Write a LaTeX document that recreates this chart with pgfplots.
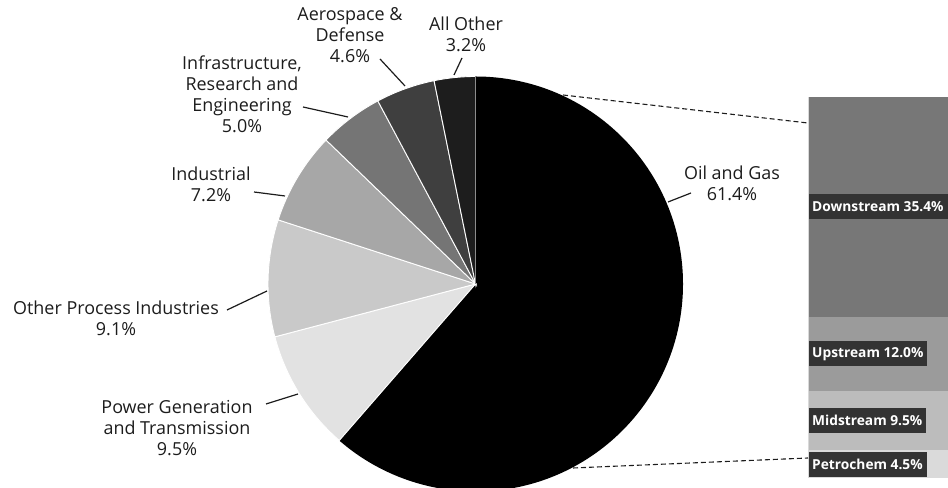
\documentclass[border=0pt]{standalone}
\usepackage{pgfplots}
\pgfplotsset{compat=1.18}
\usepackage{fontspec}
\setmainfont{Open Sans}
\definecolor{cOil}{HTML}{000000}
\definecolor{cPow}{HTML}{E2E2E2}
\definecolor{cOPI}{HTML}{C9C9C9}
\definecolor{cInd}{HTML}{A7A7A7}
\definecolor{cInf}{HTML}{757575}
\definecolor{cAer}{HTML}{3F3F3F}
\definecolor{cAll}{HTML}{1D1D1D}
\definecolor{cDown}{HTML}{777777}
\definecolor{cUp}{HTML}{9B9B9B}
\definecolor{cMid}{HTML}{BCBCBC}
\definecolor{cPet}{HTML}{DADADA}
\definecolor{labfill}{HTML}{333333}
\definecolor{txt}{HTML}{1C1C1C}
% pie values (percent)
\def\vOil{61.4}
\def\vPow{9.5}
\def\vOPI{9.1}
\def\vInd{7.2}
\def\vInf{5.0}
\def\vAer{4.6}
\def\vAll{3.2}
\pgfmathsetmacro\aA{90}
\pgfmathsetmacro\aB{\aA-3.6*\vOil}
\pgfmathsetmacro\aC{\aB-3.6*\vPow}
\pgfmathsetmacro\aD{\aC-3.6*\vOPI}
\pgfmathsetmacro\aE{\aD-3.6*\vInd}
\pgfmathsetmacro\aF{\aE-3.6*\vInf}
\pgfmathsetmacro\aG{\aF-3.6*\vAer}
\pgfmathsetmacro\aH{\aG-3.6*\vAll}
\def\R{207.5bp}
\newcommand{\slice}[3]{\fill[#1,draw=white,line width=0.9bp] (axis cs:0,0) -- (axis cs:{cos(#2)},{sin(#2)}) arc[start angle=#2,end angle=#3,radius=\R] -- cycle;}
\tikzset{lab/.style={anchor=west, fill=labfill, text=white, inner xsep=4bp, inner ysep=0pt,
  minimum height=25bp, font=\bfseries\fontsize{13.8}{15}\selectfont}}
\begin{document}
\begin{tikzpicture}[x=1bp,y=1bp]
\useasboundingbox (0,0) rectangle (948,488);
\clip (0,0) rectangle (948,488);
% pie
\begin{axis}[at={(475.5bp,204bp)}, anchor=center, scale only axis,
  width=415bp, height=415bp, xmin=-1, xmax=1, ymin=-1, ymax=1,
  enlargelimits=false, hide axis, clip=false]
\fill[cOil] (axis cs:0,0) -- (axis cs:{cos(\aA)},{sin(\aA)}) arc[start angle=\aA,end angle=\aB,radius=\R] -- cycle;
\slice{cPow}{\aB}{\aC}
\slice{cOPI}{\aC}{\aD}
\slice{cInd}{\aD}{\aE}
\slice{cInf}{\aE}{\aF}
\slice{cAer}{\aF}{\aG}
\slice{cAll}{\aG}{\aH}
\draw[color=black!45,line width=1.2bp] (axis cs:0,0) -- (axis cs:0,1);
\end{axis}
% bar of Oil and Gas breakdown
\begin{axis}[at={(808bp,10bp)}, anchor=south west, scale only axis,
  width=160bp, height=381bp, xmin=0, xmax=1, ymin=0, ymax=61.4,
  enlargelimits=false, hide axis, clip=false, ybar stacked, bar width=160bp]
\addplot[fill=cPet, draw=none] coordinates {(0.5,4.5)};
\addplot[fill=cMid, draw=none] coordinates {(0.5,9.5)};
\addplot[fill=cUp, draw=none] coordinates {(0.5,12.0)};
\addplot[fill=cDown, draw=none] coordinates {(0.5,35.4)};
\coordinate (lPet) at (axis cs:0,2.25);
\coordinate (lMid) at (axis cs:0,9.25);
\coordinate (lUp) at (axis cs:0,20);
\coordinate (lDown) at (axis cs:0,43.7);
\end{axis}
\node[lab] at (lPet) {Petrochem 4.5\%};
\node[lab] at (lMid) {Midstream 9.5\%};
\node[lab] at (lUp) {Upstream 12.0\%};
\node[lab] at (lDown) {Downstream 35.4\%};
\draw[color=black!15,line width=1bp] (808.5,10) -- (808.5,391);
% connector dashed lines
\draw[txt,line width=1.1bp,dash pattern=on 5bp off 3bp] (563,393) -- (808,365);
\draw[txt,line width=1.1bp,dash pattern=on 5bp off 3bp] (573,20) -- (808,30);
% leader lines
\begin{scope}[txt,line width=1.2bp]
\draw (380,429) -- (405,402);
\draw (462,430) -- (454,413);
\draw (303,381) -- (348,371);
\draw (254,296) -- (285,292);
\draw (227,178) -- (267,197);
\draw (266,84) -- (298,94);
\draw (668,286) -- (691,295);
\end{scope}
% labels
\begin{scope}[every node/.style={align=center, text=txt, inner sep=0pt,
  font=\fontsize{18}{21}\selectfont}]
\node at (350,452.5) {Aerospace \&\\Defense\\4.6\%};
\node at (466,454) {All Other\\3.2\%};
\node at (242,394) {Infrastructure,\\Research and\\Engineering\\5.0\%};
\node at (211,304) {Industrial\\7.2\%};
\node at (116,170) {Other Process Industries\\9.1\%};
\node at (177,60) {Power Generation\\and Transmission\\9.5\%};
\node at (732,305) {Oil and Gas\\61.4\%};
\end{scope}
\end{tikzpicture}
\end{document}
